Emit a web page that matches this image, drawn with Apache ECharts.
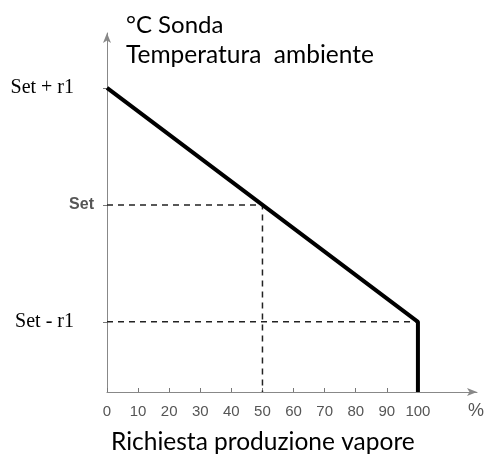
<!DOCTYPE html>
<html><head><meta charset="utf-8">
<script src="https://cdn.jsdelivr.net/npm/echarts@6/dist/echarts.min.js"></script>
<style>html,body{margin:0;padding:0;background:#fff}#c{width:488px;height:454px}</style>
</head><body><div id="c"></div>
<script>
const xTicks = [0, 10, 20, 30, 40, 50, 60, 70, 80, 90, 100];
const yLevels = [0.6, 1.6, 2.6];
const yLabels = ['Set - r1', 'Set', 'Set + r1'];
const mainLine = [[0, 2.6], [100, 0.6], [100, 0]];
const setDash = [[0, 1.6], [50, 1.6], [50, 0]];
const lowDash = [[0, 0.6], [100, 0.6]];
const yTitle1 = '°C Sonda';
const yTitle2 = 'Temperatura  ambiente';
const xTitle = 'Richiesta produzione vapore';
const xUnit = '%';

const chart = echarts.init(document.getElementById('c'), null, {renderer: 'canvas'});
chart.setOption({
  animation: false,
  grid: {left: 107, right: 11, top: 33, bottom: 62},
  xAxis: {
    type: 'value', min: 0, max: 119, interval: 10,
    splitLine: {show: false},
    axisLine: {lineStyle: {color: '#888', width: 1}, symbol: ['none', 'arrow'], symbolSize: [6, 10]},
    axisTick: {inside: true, length: 4, lineStyle: {color: '#777'}, customValues: xTicks},
    axisLabel: {customValues: xTicks, color: '#555', fontFamily: 'Liberation Sans', fontSize: 15, margin: 12},
  },
  yAxis: {
    type: 'value', min: 0, max: 3.07,
    splitLine: {show: false},
    axisLine: {show: true, lineStyle: {color: '#888', width: 1}, symbol: ['none', 'arrow'], symbolSize: [6, 10]},
    axisTick: {show: true, length: 4, lineStyle: {color: '#777'}, customValues: yLevels},
    axisLabel: {
      customValues: yLevels,
      formatter: v => {
        const i = yLevels.findIndex(y => Math.abs(y - v) < 1e-6);
        const t = yLabels[i];
        return t === 'Set' ? '{g|' + t + '}' : '{s|' + t + '}';
      },
      rich: {
        s: {fontFamily: 'Liberation Serif', fontSize: 20, color: '#000', padding: [0, 27, 0, 0]},
        g: {fontFamily: 'Liberation Sans', fontSize: 16, color: '#555', fontWeight: 'bold', padding: [0, 7, 0, 0]}
      },
      margin: 6
    }
  },
  graphic: [
    {type: 'text', left: 126, top: 13, style: {text: yTitle1, fontFamily: 'Lato', fontSize: 24, fill: '#000'}},
    {type: 'text', left: 126, top: 43, style: {text: yTitle2, fontFamily: 'Lato', fontSize: 24.5, fill: '#000'}},
    {type: 'text', left: 111, top: 430, style: {text: xTitle, fontFamily: 'Lato', fontSize: 24.5, fill: '#000'}},
    {type: 'text', left: 468, top: 402, style: {text: xUnit, fontFamily: 'Liberation Sans', fontSize: 18, fill: '#555'}}
  ],
  series: [
    {type: 'line', data: setDash, symbol: 'none', lineStyle: {color: '#222', width: 1.5, type: [6, 5]}},
    {type: 'line', data: lowDash, symbol: 'none', lineStyle: {color: '#222', width: 1.5, type: [6, 5]}},
    {type: 'line', data: mainLine, symbol: 'none', lineStyle: {color: '#000', width: 4}}
  ]
});
</script></body></html>
